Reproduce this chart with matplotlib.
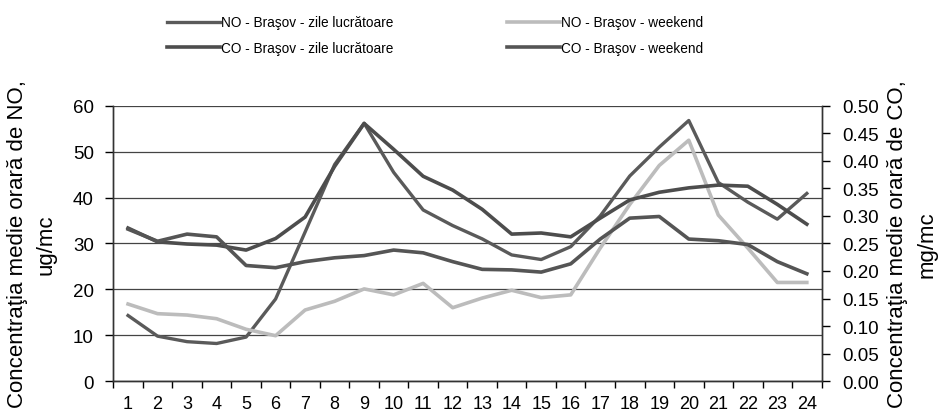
import matplotlib
matplotlib.use("Agg")
import matplotlib.pyplot as plt
import numpy as np
from matplotlib.ticker import FixedLocator

plt.rcParams["font.family"] = ["Liberation Sans", "DejaVu Sans"]

hours = list(range(1, 25))

# NO, ug/mc (left axis)
no_workdays = [14.3, 9.8, 8.6, 8.2, 9.6, 17.9, 32.5, 47.2, 56.2, 45.5, 37.3, 33.9,
               31.0, 27.5, 26.5, 29.3, 36.0, 44.7, 51.0, 56.8, 43.3, 39.0, 35.3, 40.9]
no_weekend = [16.8, 14.7, 14.4, 13.6, 11.3, 9.9, 15.5, 17.4, 20.1, 18.8, 21.3, 16.0,
              18.1, 19.8, 18.2, 18.8, 29.0, 38.5, 47.0, 52.5, 36.2, 29.0, 21.5, 21.5]

# CO, mg/mc (right axis)
co_workdays = [0.278, 0.253, 0.249, 0.247, 0.238, 0.259, 0.298, 0.390, 0.468, 0.421,
               0.372, 0.347, 0.312, 0.267, 0.269, 0.262, 0.296, 0.329, 0.343, 0.351,
               0.356, 0.354, 0.321, 0.285]
co_weekend = [0.276, 0.254, 0.267, 0.262, 0.210, 0.206, 0.217, 0.224, 0.228, 0.238,
              0.233, 0.217, 0.203, 0.202, 0.198, 0.213, 0.258, 0.296, 0.299, 0.258,
              0.255, 0.248, 0.217, 0.195]

labels = ["NO - Braşov - zile lucrătoare", "CO - Braşov - zile lucrătoare",
          "NO - Braşov - weekend", "CO - Braşov - weekend"]

fig = plt.figure(figsize=(9.52, 4.14), dpi=100)
ax = fig.add_axes([0.119, 0.077, 0.744, 0.665])
ax2 = ax.twinx()

l_no_w, = ax.plot(hours, no_workdays, color="#5a5a5a", lw=2.4)
l_no_we, = ax.plot(hours, no_weekend, color="#bcbcbc", lw=2.6)
l_co_w, = ax2.plot(hours, co_workdays, color="#4d4d4d", lw=2.6)
l_co_we, = ax2.plot(hours, co_weekend, color="#555555", lw=2.6)

ax.set_xlim(0.5, 24.5)
ax.set_ylim(0, 60)
ax2.set_ylim(0, 0.5)

ax.set_yticks(np.arange(0, 61, 10))
co_ticks = np.arange(0, 0.501, 0.05)
ax2.set_yticks(co_ticks)
ax2.set_yticklabels([f"{v:.2f}" for v in co_ticks])

ax.set_xticks(hours)
ax.xaxis.set_minor_locator(FixedLocator(np.arange(0.5, 25, 1)))
ax.tick_params(axis="x", which="major", length=0, pad=10, labelsize=13)
ax.tick_params(axis="x", which="minor", length=5, width=1, direction="out")
ax.tick_params(axis="y", length=6, width=1, pad=8, labelsize=13.5)
ax2.tick_params(axis="y", length=6, width=1, pad=9, labelsize=13.5)

ax.yaxis.grid(True, color="#444444", lw=0.9)
ax.set_axisbelow(True)
for a in (ax, ax2):
    a.spines["top"].set_visible(False)
    for s in ("left", "right", "bottom"):
        a.spines[s].set_linewidth(1.0)
        a.spines[s].set_color("#333333")

ax.set_ylabel("Concentraţia medie orară de NO,\nug/mc", fontsize=16, linespacing=1.5)
ax.yaxis.set_label_coords(-0.080, 0.5)
ax2.set_ylabel("Concentraţia medie orară de CO,\nmg/mc", fontsize=16, linespacing=1.5)
ax2.yaxis.set_label_coords(1.093, 0.5)

fig.legend([l_no_w, l_co_w, l_no_we, l_co_we], labels, ncol=2, loc="upper center",
           bbox_to_anchor=(0.457, 0.99), frameon=False, fontsize=9.8,
           handlelength=3.9, handletextpad=0.1, columnspacing=8.3, labelspacing=0.85)

fig.savefig("out.png", dpi=100)
